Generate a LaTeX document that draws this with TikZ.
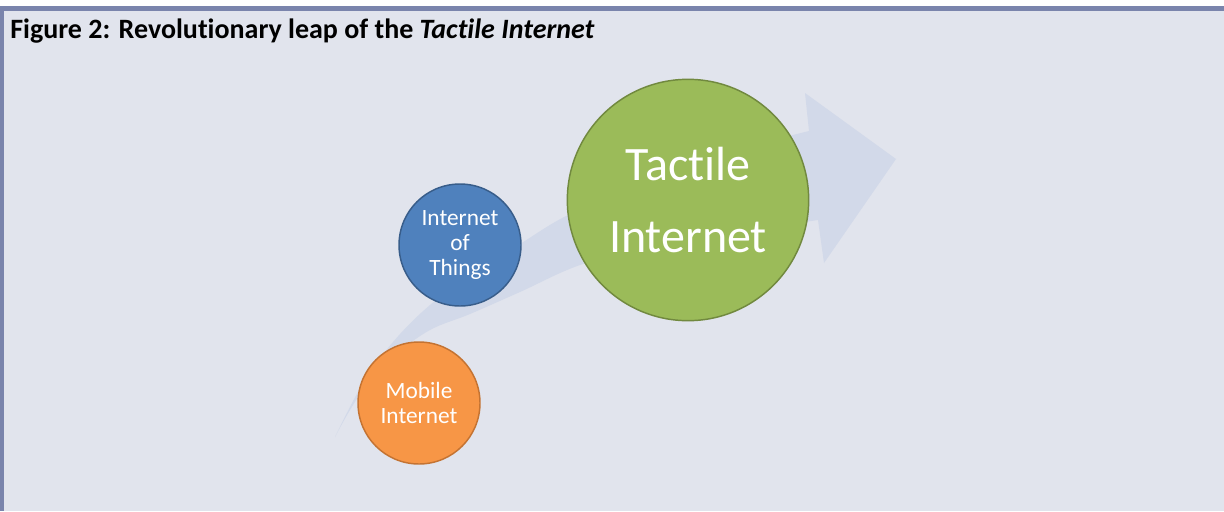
\documentclass[tikz,border=0pt]{standalone}
\usepackage{fontspec}
\setmainfont{Carlito}[Ligatures=NoCommon]
\definecolor{PanelGrey}{RGB}{225,228,237}
\definecolor{PanelLine}{RGB}{122,132,172}
\definecolor{LeapArrow}{RGB}{210,217,233}
\definecolor{MobileOrange}{RGB}{247,150,70}
\definecolor{MobileEdge}{RGB}{196,115,50}
\definecolor{IoTBlue}{RGB}{79,129,189}
\definecolor{IoTEdge}{RGB}{56,93,138}
\definecolor{TactileGreen}{RGB}{155,187,89}
\definecolor{TactileEdge}{RGB}{113,137,63}
\tikzset{
    leapnode/.style={
        circle, draw, line width=1.1pt, text=white, align=center, inner sep=0pt
    },
    smallleap/.style={
        leapnode, minimum size=91.5pt, font=\fontsize{17.5}{18.75}\selectfont
    },
    bigleap/.style={
        leapnode, minimum size=181pt, font=\fontsize{36}{54}\selectfont
    }
}
\begin{document}
\begin{tikzpicture}[x=0.75pt, y=-0.75pt]
    % panel
    \useasboundingbox (0,0) rectangle (1224,511);
    \fill[white] (0,0) rectangle (1224,511);
    \fill[PanelGrey] (0,6) rectangle (1224,511);
    \fill[PanelLine] (0,6) rectangle (1224,11);
    \fill[PanelLine] (0,6) rectangle (4,511);

    % title
    \node[anchor=base west, inner sep=0pt, font=\fontsize{21}{24}\selectfont\bfseries] (title) at (10,38)
        {Figure 2: Revolutionary leap of the \textit{Tactile Internet}};

    % the leap arrow behind the bubbles
    \fill[LeapArrow]
        plot[smooth, tension=0.6] coordinates {(335,437) (362,385) (393,342) (430,305) (475,272)
            (520,244) (570,214) (650,180) (730,152) (809,131)}
        -- (805,93) -- (896,159) -- (824,263) --
        plot[smooth, tension=0.6] coordinates {(818,220) (740,232) (660,246) (583,264) (520,292)
            (470,314) (430,330) (395,355) (370,380) (350,410) (335,437)}
        -- cycle;

    % bubbles
    \node[smallleap, fill=MobileOrange, draw=MobileEdge] (mobile) at (419,403) {Mobile\\Internet};
    \node[smallleap, fill=IoTBlue, draw=IoTEdge] (iot) at (460,245) {Internet\\of\\Things};
    \node[bigleap, fill=TactileGreen, draw=TactileEdge] (tactile) at (688,200) {Tactile\\Internet};
\end{tikzpicture}
\end{document}
